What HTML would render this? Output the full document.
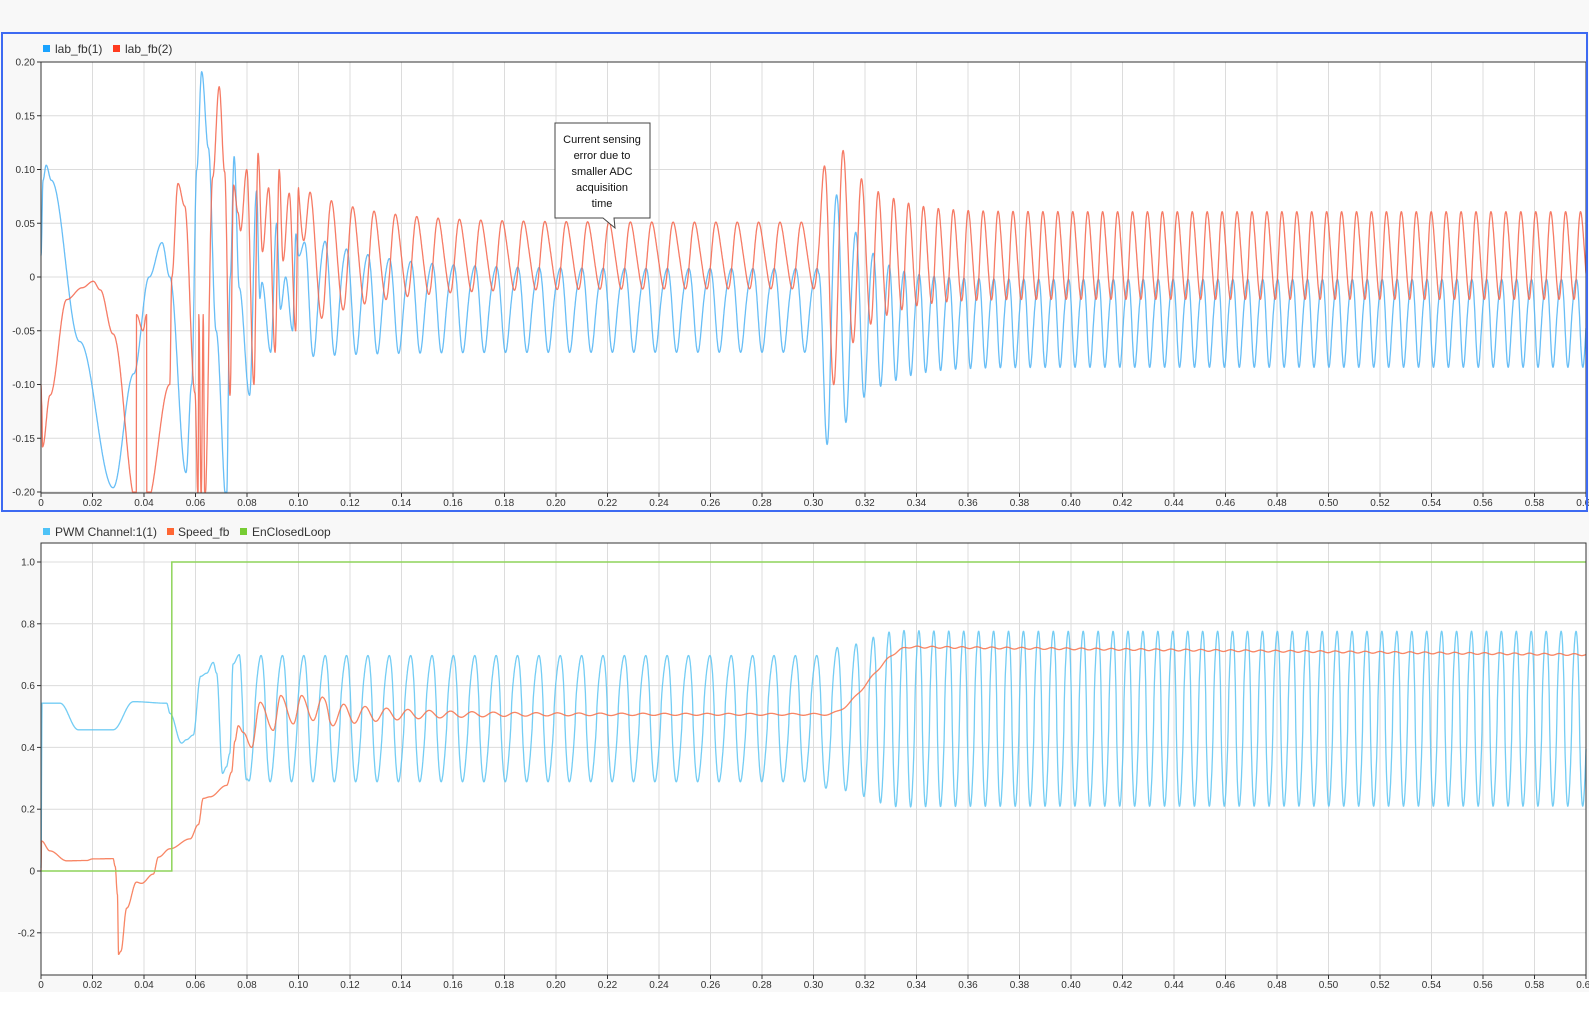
<!DOCTYPE html>
<html><head><meta charset="utf-8"><style>
html,body{margin:0;padding:0;background:#fff;}
body{width:1589px;height:1027px;position:relative;overflow:hidden;font-family:"Liberation Sans",sans-serif;}
</style></head><body>
<svg id="s" width="1589" height="1027" xmlns="http://www.w3.org/2000/svg" style="position:absolute;left:0;top:0">
<rect x="0" y="0" width="1589" height="992" fill="#f8f8f8"/>
<rect x="41" y="62" width="1545" height="431" fill="#fff"/>
<rect x="41" y="543" width="1545" height="432" fill="#fff"/>
<g id="grid"></g>
<g id="series"></g>
<rect x="41" y="62" width="1545" height="431" fill="none" stroke="#333" stroke-width="1"/>
<rect x="41" y="543" width="1545" height="432" fill="none" stroke="#333" stroke-width="1"/>
<rect x="2" y="33" width="1585" height="478" fill="none" stroke="#3d6af2" stroke-width="2"/>
<g font-size="12" fill="#333">
<rect x="43" y="45" width="7" height="7" fill="#1aa3ff"/><text x="55" y="53">lab_fb(1)</text>
<rect x="113" y="45" width="7" height="7" fill="#ff3b1f"/><text x="125" y="53">lab_fb(2)</text>
<rect x="43" y="528" width="7" height="7" fill="#4fc3f7"/><text x="55" y="536">PWM Channel:1(1)</text>
<rect x="167" y="528" width="7" height="7" fill="#ff6633"/><text x="178" y="536">Speed_fb</text>
<rect x="240" y="528" width="7" height="7" fill="#77cc33"/><text x="252" y="536">EnClosedLoop</text>
</g>
<g id="ann">
<path d="M555,123 H650 V218 H614 L615,228 L603,218 H555 Z" fill="#fff" stroke="#444" stroke-width="1"/>
<g font-size="11" fill="#111" text-anchor="middle">
<text x="602" y="143">Current sensing</text>
<text x="602" y="159">error due to</text>
<text x="602" y="175">smaller ADC</text>
<text x="602" y="191">acquisition</text>
<text x="602" y="207">time</text>
</g></g>
</svg>
<script>
var NS="http://www.w3.org/2000/svg";
function el(tag,attrs,parent,txt){var e=document.createElementNS(NS,tag);for(var k in attrs)e.setAttribute(k,attrs[k]);if(txt!==undefined)e.textContent=txt;parent.appendChild(e);return e;}
var grid=document.getElementById('grid'),ser=document.getElementById('series');
function X(t){return 41+t*2575;}
function YT(v){return 277-v*1075;}
function YB(v){return 871-v*309;}
for(var i=0;i<=30;i++){var x=X(i*0.02);
 el('line',{x1:x,y1:62,x2:x,y2:493,stroke:'#dcdcdc','stroke-width':1},grid);
 el('line',{x1:x,y1:543,x2:x,y2:975,stroke:'#dcdcdc','stroke-width':1},grid);
 el('line',{x1:x,y1:493,x2:x,y2:497,stroke:'#333'},grid);
 el('line',{x1:x,y1:975,x2:x,y2:979,stroke:'#333'},grid);
 var lab=i==0?'0':(i*0.02).toFixed(2);
 el('text',{x:x,y:506,'font-size':10,fill:'#333','text-anchor':'middle'},grid,lab);
 el('text',{x:x,y:988,'font-size':10,fill:'#333','text-anchor':'middle'},grid,lab);
}
for(var i=-4;i<=4;i++){var v=i*0.05,y=YT(v);
 el('line',{x1:41,y1:y,x2:1586,y2:y,stroke:'#dcdcdc'},grid);
 el('line',{x1:37,y1:y,x2:41,y2:y,stroke:'#333'},grid);
 el('text',{x:35,y:y+3.5,'font-size':10,fill:'#333','text-anchor':'end'},grid,i==0?'0':v.toFixed(2));
}
for(var i=-1;i<=5;i++){var v=i*0.2,y=YB(v);
 el('line',{x1:41,y1:y,x2:1586,y2:y,stroke:'#dcdcdc'},grid);
 el('line',{x1:37,y1:y,x2:41,y2:y,stroke:'#333'},grid);
 el('text',{x:35,y:y+3.5,'font-size':10,fill:'#333','text-anchor':'end'},grid,i==0?'0':v.toFixed(1));
}
function interp(k,t){ if(t<=k[0][0])return k[0][1];
 for(var i=1;i<k.length;i++){if(t<=k[i][0]){var a=k[i-1],b=k[i];var f=(t-a[0])/(b[0]-a[0]||1e-9);f=(1-Math.cos(f*Math.PI))/2;return a[1]+(b[1]-a[1])*f;}}
 return k[k.length-1][1];}
var blueK=[[0,0.02],[0.0008,0.09],[0.002,0.104],[0.004,0.09],[0.015,-0.06],[0.028,-0.196],[0.036,-0.09],[0.042,0.0],[0.047,0.032],[0.050,0.0],[0.0563,-0.182],[0.0585,-0.1],[0.0605,0.1],[0.0624,0.191],[0.065,0.12],[0.068,-0.05],[0.072,-0.21],[0.0735,0.0],[0.075,0.112],[0.077,-0.01],[0.081,-0.11],[0.0837,0.08],[0.085,-0.02],[0.0858,-0.005],[0.0892,-0.07],[0.0915,0.05],[0.093,-0.03],[0.095,0.0],[0.0977,-0.05],[0.099,0.04],[0.1,0.02]];
var redK=[[0,-0.1],[0.0003,-0.12],[0.0006,-0.158],[0.0035,-0.11],[0.01,-0.021],[0.016,-0.01],[0.0203,-0.004],[0.023,-0.012],[0.028,-0.053],[0.037,-0.21],[0.0371,-0.035],[0.0396,-0.05],[0.041,-0.035],[0.0411,-0.21],[0.050,-0.1],[0.0508,0.0],[0.0532,0.087],[0.0558,0.066],[0.0598,-0.108],[0.061,-0.21],[0.0613,-0.035],[0.0622,-0.21],[0.063,-0.035],[0.0636,-0.21],[0.0667,0.093],[0.0692,0.177],[0.0713,0.098],[0.0734,-0.11],[0.0748,0.0855],[0.0765,0.06],[0.0775,0.043],[0.0799,0.1],[0.0827,-0.1],[0.0843,0.115],[0.086,0.0235],[0.0884,0.083],[0.0909,-0.07],[0.0925,0.1],[0.094,0.015],[0.0964,0.078],[0.0989,-0.05],[0.1,0.083]];
var pwmK=[[0,0.01],[0.0004,0.543],[0.0074,0.543],[0.0145,0.457],[0.0215,0.457],[0.028,0.457],[0.0359,0.548],[0.0488,0.543],[0.0501,0.51],[0.0546,0.414],[0.0565,0.425],[0.0591,0.44],[0.062,0.63],[0.0643,0.64],[0.0669,0.675],[0.0682,0.64],[0.0705,0.316],[0.072,0.337],[0.0733,0.38],[0.0746,0.67],[0.077,0.7],[0.0798,0.295]];
var spdK=[[0,0.0],[0.0002,0.097],[0.0035,0.065],[0.01,0.033],[0.0178,0.034],[0.02,0.039],[0.028,0.04],[0.0288,0.015],[0.0297,-0.077],[0.0301,-0.27],[0.031,-0.26],[0.0333,-0.12],[0.0371,-0.036],[0.039,-0.04],[0.0436,-0.01],[0.0456,0.045],[0.0501,0.072],[0.0579,0.104],[0.0611,0.15],[0.063,0.235],[0.0656,0.24],[0.0721,0.277],[0.074,0.32],[0.0753,0.42],[0.0766,0.47],[0.0786,0.448],[0.0818,0.4],[0.0851,0.546],[0.0902,0.455],[0.0931,0.568],[0.098,0.476],[0.1012,0.568],[0.1057,0.487],[0.1093,0.563]];
function T(t){if(t<0.302)return 0.0083;if(t>0.33)return 0.0058;return 0.0083-(t-0.302)/0.028*0.0025;}
var dt=0.0001,N=6000,ph=[],p=0;
for(var i=0;i<=N;i++){var t=i*dt;ph.push(p);p+=2*Math.PI*dt/T(t);}
var off=Math.PI/2-ph[964];
function bump(t){if(t<0.302)return 0;var r=Math.min(1,(t-0.302)/0.004);return r*Math.exp(-Math.max(0,t-0.306)/0.012);}
function sm(a,b,t0,t1,t){if(t<=t0)return a;if(t>=t1)return b;var f=(t-t0)/(t1-t0);f=(1-Math.cos(f*Math.PI))/2;return a+(b-a)*f;}
var R=[],B=[],P=[],S=[];
for(var i=0;i<=N;i++){var t=i*dt,f=ph[i]+off;
 var e=Math.exp(-Math.max(0,t-0.1)/0.025),b=bump(t);
 var late=sm(0,1,0.305,0.335,t);
 var aR=0.03+0.037*e+0.105*b+0.01*late, cR=0.02-0.003*e;
 var aB=0.038+0.022*e+0.1*b+0.002*late, cB=-0.027+0.017*e-0.012*late-0.01*b;
 var r=cR+aR*Math.sin(f)+0.004*Math.sin(2*f);
 var bl=cB-aB*Math.sin(f-0.9)+0.006*Math.sin(2*f+0.5);
 if(t<0.1){r=interp(redK,t);bl=interp(blueK,t);}
 else if(t<0.104){var w=(t-0.1)/0.004;r=interp(redK,0.1)*(1-w)+r*w;bl=interp(blueK,0.1)*(1-w)+bl*w;}
 r=Math.max(-0.2,Math.min(0.2,r));bl=Math.max(-0.2,Math.min(0.2,bl));
 R.push([X(t),YT(r)]);B.push([X(t),YT(bl)]);
 var s=Math.sin(f+2.27);var sq=(s<0?-1:1)*Math.pow(Math.abs(s),0.75);
 var aP=0.2+0.08*late+0.03*b;
 var pw=0.5+aP*sq+0.02*Math.sin(2*f+1);
 if(t<0.0798)pw=interp(pwmK,t);else if(t<0.0815){var w=(t-0.0798)/0.0017;pw=0.295*(1-w)+pw*w;}
 P.push([X(t),YB(pw)]);
 var base;
 if(t<0.305)base=0.507;else if(t<0.338)base=sm(0.507,0.725,0.305,0.338,t);else base=0.725-0.025*(t-0.338)/0.262;
 var sa=0.045*Math.exp(-Math.max(0,t-0.105)/0.03)+0.003;
 var sp=base+sa*Math.sin(f-2*Math.PI*0.0129/0.0083);
 if(t<0.1093)sp=interp(spdK,t);else if(t<0.112){var w=(t-0.1093)/0.0027;sp=0.563*(1-w)+sp*w;}
 S.push([X(t),YB(sp)]);
}
function pl(arr,col,w){var d='';for(var i=0;i<arr.length;i++)d+=(i?'L':'M')+arr[i][0].toFixed(1)+','+arr[i][1].toFixed(1);
 el('path',{d:d,fill:'none',stroke:col,'stroke-width':w,'stroke-linejoin':'round',opacity:0.85},ser);}
pl(B,'#4db3f5',1.3);pl(R,'#f5644a',1.3);
pl(P,'#5cc4f2',1.3);pl(S,'#f7714a',1.3);
el('path',{d:'M'+X(0)+','+YB(0)+'H'+X(0.0508)+'V'+YB(1)+'H1586',fill:'none',stroke:'#8ed45a','stroke-width':1.5},ser);
</script>
</body></html>
